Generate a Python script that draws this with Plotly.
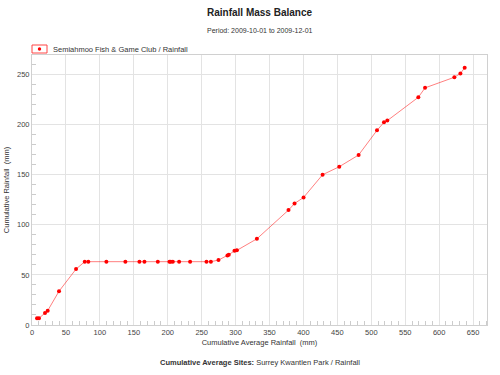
import plotly.graph_objects as go

avg_rainfall = [7.4, 10.3, 19.2, 23.1, 39.8, 64.9, 77.7, 83.0, 109.6, 137.6, 158.3, 165.7,
                185.4, 202.5, 204.5, 207.5, 216.8, 233.0, 257.1, 263.6, 274.8, 288.0, 290.0,
                298.4, 301.9, 331.4, 378.0, 386.9, 400.2, 428.2, 452.8, 481.3, 508.4, 518.7,
                523.6, 569.3, 579.2, 622.4, 631.3, 637.6]
site_rainfall = [6.7, 6.7, 12.0, 14.3, 33.7, 55.8, 63.2, 63.2, 63.2, 63.2, 63.2, 63.2,
                 63.2, 63.2, 63.2, 63.2, 63.2, 63.2, 63.2, 63.2, 64.8, 69.3, 70.2,
                 74.0, 74.5, 86.0, 114.7, 121.3, 127.3, 150.0, 158.0, 169.7, 194.3, 202.3,
                 204.0, 227.3, 236.7, 247.3, 251.0, 256.7]

series_name = "Semiahmoo Fish &amp; Game Club / Rainfall"
title_text = "Rainfall Mass Balance"
subtitle_text = "Period: 2009-10-01 to 2009-12-01"
x_title = "Cumulative Average Rainfall&nbsp; (mm)"
y_title = "Cumulative Rainfall&nbsp; (mm)"
footer_text = "<b>Cumulative Average Sites:</b> Surrey Kwantlen Park / Rainfall"

FONT = "Liberation Sans, Arial, sans-serif"
W, H = 500, 375
ML, MR, MT, MB = 32, 13, 55, 50
PW, PH = W - ML - MR, H - MT - MB


def px_x(p):
    return (p - ML) / PW


def px_y(p):
    return (H - MB - p) / PH


fig = go.Figure()
fig.add_trace(go.Scatter(
    x=avg_rainfall, y=site_rainfall, mode="lines+markers", name=series_name,
    line=dict(color="rgba(255,0,0,0.5)", width=1),
    marker=dict(color="#ff0000", size=4, symbol="circle"),
    showlegend=False,
))

axis_common = dict(
    showgrid=True, gridcolor="#e3e3e3", gridwidth=1,
    showline=True, linecolor="#d0d0d0", linewidth=1, mirror=True,
    zeroline=False, ticks="", tickfont=dict(family=FONT, size=7.5, color="#444"),
    minor=dict(ticks="inside", ticklen=4, tickcolor="#cccccc", dtick=10, showgrid=False),
    dtick=50, tick0=0,
)

fig.update_xaxes(range=[0, 670.5], title=dict(text=x_title, font=dict(family=FONT, size=7.5, color="#333"), standoff=3),
                 **axis_common)
fig.update_yaxes(range=[0, 269.5], title=dict(text=y_title, font=dict(family=FONT, size=7.5, color="#333"), standoff=6),
                 **axis_common)

# legend drawn as a boxed swatch plus text
shapes = [
    dict(type="rect", xref="paper", yref="paper", x0=px_x(32), x1=px_x(47), y0=px_y(53), y1=px_y(45),
         line=dict(color="#ff4444", width=1), fillcolor="white"),
    dict(type="circle", xref="paper", yref="paper", x0=px_x(37.8), x1=px_x(41.2), y0=px_y(50.7), y1=px_y(47.3),
         line=dict(color="#ff0000", width=0), fillcolor="#ff0000"),
]

annotations = [
    dict(text="<b>" + title_text + "</b>", x=0.5, xanchor="center", y=px_y(12),
         font=dict(family=FONT, size=10, color="#222")),
    dict(text=subtitle_text, x=0.5, xanchor="center", y=px_y(30),
         font=dict(family=FONT, size=7, color="#333")),
    dict(text=series_name, x=px_x(51), xanchor="left", y=px_y(49.5),
         font=dict(family=FONT, size=7.5, color="#333")),
    dict(text=footer_text, x=0.5, xanchor="center", y=px_y(362),
         font=dict(family=FONT, size=7.5, color="#333")),
]
for a in annotations:
    a.update(xref="paper", yref="paper", yanchor="middle", showarrow=False)

fig.update_layout(
    width=W, height=H,
    margin=dict(l=ML, r=MR, t=MT, b=MB, autoexpand=False),
    paper_bgcolor="white", plot_bgcolor="white",
    font=dict(family=FONT, size=7.5, color="#333"),
    showlegend=False,
    shapes=shapes,
    annotations=annotations,
)

fig.write_html("out.html", config={"displayModeBar": False},
               post_script="document.body.style.margin='0';")
